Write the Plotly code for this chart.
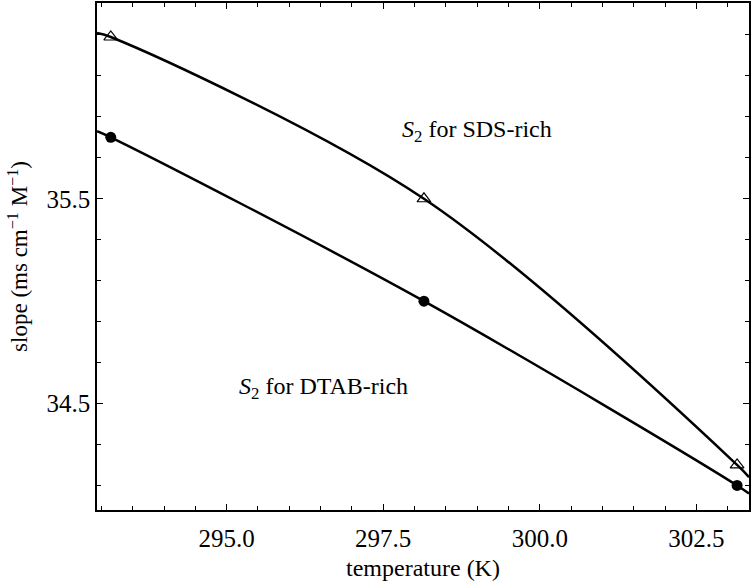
import plotly.graph_objects as go

# Measured points (temperature in K, slope in mS cm^-1 M^-1)
temps = [293.15, 298.15, 303.15]
sds_rich = [36.29, 35.50, 34.20]
dtab_rich = [35.80, 35.00, 34.10]

# Fitted curves, including where they meet the frame
curve_t = [292.93, 293.15, 298.15, 303.15, 303.34]
sds_curve = [36.31, 36.29, 35.50, 34.20, 34.14]
dtab_curve = [35.83, 35.80, 35.00, 34.10, 34.06]

font = "'Liberation Serif', 'Times New Roman', Times, serif"
fs = 24

fig = go.Figure()

# Fit lines
for ys in (sds_curve, dtab_curve):
    fig.add_trace(go.Scatter(
        x=curve_t, y=ys, mode="lines",
        line=dict(color="black", width=2.5, shape="spline", smoothing=1.0),
        showlegend=False, hoverinfo="skip"
    ))

# Data markers
fig.add_trace(go.Scatter(
    x=temps, y=sds_rich, mode="markers",
    marker=dict(symbol="triangle-up-open", size=12, color="black",
                line=dict(width=1.2, color="black")),
    showlegend=False
))
fig.add_trace(go.Scatter(
    x=temps, y=dtab_rich, mode="markers",
    marker=dict(symbol="circle", size=11, color="black"),
    showlegend=False
))

fig.add_annotation(x=299.0, y=35.83, text="<i>S</i><sub>2</sub> for SDS-rich",
                   showarrow=False, font=dict(family=font, size=fs, color="black"))
fig.add_annotation(x=296.55, y=34.575, text="<i>S</i><sub>2</sub> for DTAB-rich",
                   showarrow=False, font=dict(family=font, size=fs, color="black"))

axis_common = dict(
    showline=True, linecolor="black", linewidth=1.5, mirror="allticks",
    ticks="inside", ticklen=6, tickwidth=1.2, tickcolor="black",
    showgrid=False, zeroline=False,
    tickfont=dict(family=font, size=25, color="black"),
)

fig.update_xaxes(
    range=[292.93, 303.34], tick0=295.0, dtick=2.5, tickformat=".1f",
    ticklabelstandoff=5,
    minor=dict(dtick=0.5, tick0=295.0, ticks="inside", ticklen=4,
               tickwidth=1, tickcolor="black"),
    title=dict(text="temperature (K)", font=dict(family=font, size=fs, color="black"),
               standoff=8),
    **axis_common
)
fig.update_yaxes(
    range=[33.98, 36.456], tick0=34.5, dtick=1.0, tickformat=".1f",
    minor=dict(dtick=0.2, tick0=34.5, ticks="inside", ticklen=4,
               tickwidth=1, tickcolor="black"),
    title=dict(text="slope (ms cm<sup>\u22121</sup> M<sup>\u22121</sup>)",
               font=dict(family=font, size=23, color="black"), standoff=12),
    **axis_common
)

fig.update_layout(
    width=752, height=582,
    margin=dict(l=97, r=1, t=1, b=72),
    plot_bgcolor="white", paper_bgcolor="white",
    font=dict(family=font, color="black"),
)

# drop the default page margin so the figure sits at the window's corner
fig.write_html("out.html", config={"displayModeBar": False},
               post_script="document.body.style.margin='0';")
